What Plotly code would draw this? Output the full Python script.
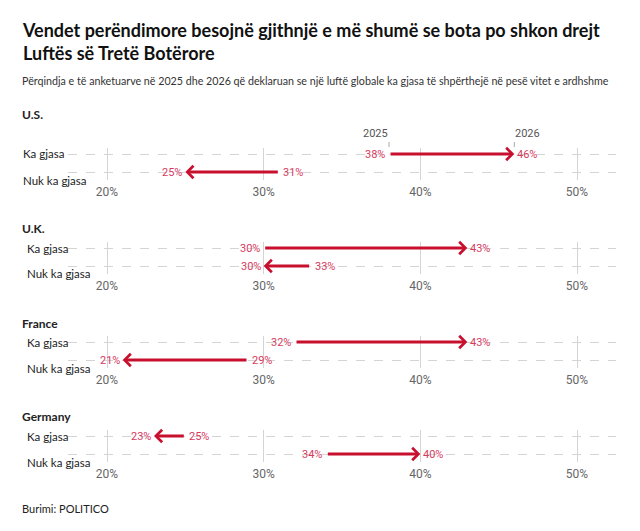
import plotly.graph_objects as go

countries = ["U.S.", "U.K.", "France", "Germany"]
categories = ["Ka gjasa", "Nuk ka gjasa"]
years = ["2025", "2026"]
likely_2025 = [38, 30, 32, 25]
likely_2026 = [46, 43, 43, 23]
unlikely_2025 = [31, 33, 29, 34]
unlikely_2026 = [25, 30, 21, 40]
tick_vals = [20, 30, 40, 50]
tick_text = ["20%", "30%", "40%", "50%"]

title = "Vendet perëndimore besojnë gjithnjë e më shumë se bota po shkon drejt<br>Luftës së Tretë Botërore"
subtitle = "Përqindja e të anketuarve në 2025 dhe 2026 që deklaruan se një luftë globale ka gjasa të shpërthejë në pesë vitet e ardhshme"
source = "Burimi: POLITICO"

W, H = 640, 531
def py(px):
    return 1 - px / H

ka_px = [154, 248, 342, 436]
row_gap = 18
title_px = [114, 228, 323, 416]
label_x = [21, 25, 25, 25]

X0, X1 = 68, 616
per = (577 - 107) / 30
xr = [20 - (107 - X0) / per, 50 + (X1 - 577) / per]

TXT = "Lato"
NUM = "Roboto"
RED_TXT = "#d63a5e"
RED = "#c8102e"
GRID = "#d4d4d4"

fig = go.Figure()
layout = {}
ann = []
shapes = []

for i, c in enumerate(countries):
    n = i + 1
    xa = "xaxis" if n == 1 else f"xaxis{n}"
    ya = "yaxis" if n == 1 else f"yaxis{n}"
    xid = "x" if n == 1 else f"x{n}"
    yid = "y" if n == 1 else f"y{n}"
    ka = ka_px[i]
    nuk = ka + row_gap
    top = ka - 6
    bot = nuk + 8
    yr = [-(bot - nuk) / row_gap, 1 + (ka - top) / row_gap]
    layout[xa] = dict(domain=[X0 / W, X1 / W], range=xr, anchor=yid,
                      tickvals=tick_vals, ticktext=tick_text,
                      showgrid=True, gridcolor=GRID, gridwidth=1,
                      zeroline=False, showline=False,
                      ticks="outside", ticklen=1, tickcolor="rgba(0,0,0,0)",
                      tickfont=dict(family=NUM, size=12, color="#666666"),
                      fixedrange=True)
    layout[ya] = dict(domain=[py(bot), py(top)], range=yr, anchor=xid,
                      tickvals=[0, 1], showticklabels=False,
                      showgrid=True, griddash="dash", gridcolor=GRID, gridwidth=1,
                      zeroline=False, showline=False, fixedrange=True)
    fig.add_trace(go.Scatter(x=[likely_2025[i], likely_2026[i], unlikely_2025[i], unlikely_2026[i]],
                             y=[1, 1, 0, 0], mode="markers", marker=dict(opacity=0),
                             xaxis=xid, yaxis=yid, hoverinfo="skip", showlegend=False))

    ann.append(dict(text=f"<b>{c}</b>", x=20 / W, y=py(title_px[i]), xref="paper", yref="paper",
                    xanchor="left", yanchor="middle", showarrow=False,
                    font=dict(family=TXT, size=12, color="#222222")))
    ann.append(dict(text=categories[0], x=label_x[i] / W, y=py(ka), xref="paper", yref="paper",
                    xanchor="left", yanchor="middle", showarrow=False,
                    font=dict(family=TXT, size=11.5, color="#222222")))
    ann.append(dict(text=categories[1], x=label_x[i] / W, y=py(nuk + 8), xref="paper", yref="paper",
                    xanchor="left", yanchor="middle", showarrow=False,
                    font=dict(family=TXT, size=11.5, color="#222222")))

    for yv, v0, v1 in [(1, likely_2025[i], likely_2026[i]), (0, unlikely_2025[i], unlikely_2026[i])]:
        ann.append(dict(text="", x=v1, y=yv, ax=v0, ay=yv, xref=xid, yref=yid,
                        axref=xid, ayref=yid, showarrow=True, arrowhead=4,
                        arrowsize=0.8, arrowwidth=3, arrowcolor=RED, standoff=0))
        up = v1 > v0
        ann.append(dict(text=f"{v0}%", x=v0, y=yv, xref=xid, yref=yid, showarrow=False,
                        xanchor="right" if up else "left", xshift=-2 if up else 2, yanchor="middle",
                        font=dict(family=NUM, size=11, color=RED_TXT)))
        ann.append(dict(text=f"{v1}%", x=v1, y=yv, xref=xid, yref=yid, showarrow=False,
                        xanchor="left" if up else "right", xshift=1 if up else -1, yanchor="middle",
                        font=dict(family=NUM, size=11, color=RED_TXT)))

for yr_lbl, v, anc in [(years[0], likely_2025[0], "right"), (years[1], likely_2026[0], "left")]:
    ann.append(dict(text=yr_lbl, x=v, y=py(134), xref="x", yref="paper", showarrow=False,
                    xanchor=anc, yanchor="middle", xshift=1 if anc == "right" else -1,
                    font=dict(family=NUM, size=11, color="#555555")))
    shapes.append(dict(type="line", xref="x", yref="paper", x0=v, x1=v, y0=py(142), y1=py(147),
                       line=dict(color="#aaaaaa", width=1)))

ann.append(dict(text=f"<b>{title}</b>", x=20 / W, y=py(41), xref="paper", yref="paper",
                xanchor="left", yanchor="middle", align="left", showarrow=False,
                font=dict(family=TXT, size=18, color="#111111")))
ann.append(dict(text=subtitle, x=20 / W, y=py(80), xref="paper", yref="paper", xanchor="left",
                yanchor="middle", showarrow=False, font=dict(family=TXT, size=10.7, color="#333333")))
ann.append(dict(text=source, x=20 / W, y=py(508), xref="paper", yref="paper", xanchor="left",
                yanchor="middle", showarrow=False, font=dict(family=TXT, size=11, color="#222222")))

fig.update_layout(**layout)
fig.update_layout(
    width=W, height=H, margin=dict(l=0, r=0, t=0, b=0),
    paper_bgcolor="white", plot_bgcolor="white",
    annotations=ann, shapes=shapes, showlegend=False,
)
fig.write_html("out.html", config={"displayModeBar": False},
               post_script="document.body.style.margin='0';document.body.style.overflow='hidden';")
